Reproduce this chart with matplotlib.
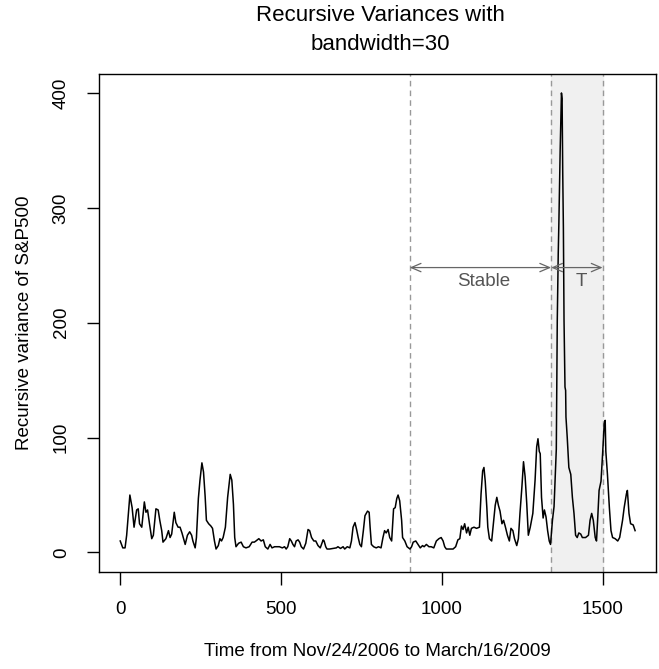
import matplotlib
matplotlib.use('Agg')
import matplotlib.pyplot as plt

plt.rcParams['font.family'] = ['Liberation Sans', 'DejaVu Sans']

# values (time index, recursive variance)
t = [0, 8, 15, 20, 30, 37, 43, 51, 56, 60, 67, 75, 80, 85, 91, 98, 103, 111, 118, 123,
     129, 133, 142, 150, 155, 160, 168, 173, 180, 186, 192, 196, 202, 209, 216, 222, 226, 233, 237, 243,
     248, 254, 259, 264, 268, 275, 282, 287, 293, 298, 305, 310, 315, 320, 327, 334, 342, 347, 352, 356,
     360, 368, 376, 383, 391, 401, 410, 417, 422, 431, 438, 445, 451, 459, 466, 472, 480, 487, 495, 504,
     511, 516, 521, 527, 532, 537, 542, 547, 553, 558, 563, 570, 577, 584, 589, 595, 602, 608, 615, 622,
     631, 634, 639, 643, 651, 662, 672, 677, 685, 693, 698, 706, 714, 719, 724, 730, 735, 740, 745, 750,
     756, 761, 769, 774, 777, 781, 788, 796, 803, 811, 817, 822, 827, 833, 838, 844, 850, 855, 860, 864,
     869, 875, 878, 885, 892, 901, 906, 911, 919, 926, 933, 940, 945, 952, 960, 967, 975, 983, 991, 998,
     1004, 1009, 1014, 1024, 1035, 1043, 1050, 1056, 1061, 1066, 1071, 1077, 1082, 1087, 1092, 1100, 1108, 1117, 1122, 1127,
     1131, 1135, 1140, 1143, 1148, 1155, 1161, 1166, 1171, 1176, 1181, 1187, 1192, 1197, 1204, 1210, 1215, 1221, 1226, 1233,
     1238, 1243, 1249, 1254, 1259, 1264, 1269, 1275, 1283, 1290, 1295, 1299, 1303, 1306, 1310, 1315, 1319, 1324, 1329, 1334,
     1338, 1344, 1349, 1353, 1356, 1359, 1362, 1364, 1368, 1372, 1374, 1376, 1378, 1380, 1383, 1385, 1386, 1390, 1395, 1401,
     1406, 1411, 1416, 1421, 1426, 1432, 1437, 1447, 1456, 1461, 1466, 1471, 1477, 1481, 1485, 1489, 1495, 1500, 1505, 1508,
     1510, 1515, 1521, 1526, 1531, 1539, 1547, 1553, 1562, 1567, 1574, 1577, 1582, 1587, 1595, 1601]
var = [10, 4, 4, 15, 50, 39, 22, 37, 38, 25, 22, 44, 35, 37, 25, 12, 15, 38, 37, 28,
       19, 9, 12, 19, 13, 16, 35, 26, 22, 22, 17, 13, 7, 15, 18, 15, 10, 4, 13, 47,
       63, 78, 70, 49, 28, 25, 23, 21, 10, 3, 6, 12, 10, 13, 22, 48, 68, 63, 42, 13,
       5, 8, 9, 5, 4, 5, 9, 9, 10, 12, 10, 11, 5, 3, 7, 4, 5, 5, 5, 4,
       5, 3, 5, 12, 10, 7, 5, 10, 11, 9, 5, 3, 8, 20, 19, 13, 10, 10, 6, 4,
       11, 10, 5, 3, 3, 3.5, 4, 5, 3.5, 5, 3, 5, 4, 10, 22, 26, 20, 13, 7, 5,
       19, 32, 36, 35, 22, 7, 5, 4, 5, 4, 13, 19, 17, 20, 13, 10, 38, 39, 47, 50,
       45, 28, 13, 10, 5, 3, 5, 9, 10, 7, 4, 6, 5, 7, 5, 5, 4, 10, 12, 13,
       10, 5, 3, 3, 3, 5, 11, 12, 23, 20, 25, 17, 22, 15, 21, 22, 21, 22, 51, 71,
       74, 62, 39, 22, 12, 10, 27, 41, 48, 41, 36, 25, 28, 23, 15, 10, 21, 19, 12, 6,
       12, 34, 57, 79, 66, 43, 15, 22, 34, 63, 92, 99, 88, 86, 48, 30, 37, 31, 19, 10,
       7, 28, 40, 68, 90, 202, 260, 287, 350, 400, 395, 330, 283, 202, 144, 141, 118, 100, 74, 68,
       48, 34, 15, 13, 17, 16, 13, 13, 15, 28, 34, 28, 13, 10, 31, 54, 62, 86, 112, 115,
       88, 68, 39, 19, 13, 12, 10, 13, 28, 39, 51, 54, 34, 25, 24, 19]

stable_start = 900
stable_end = 1340
t_end = 1500

fig = plt.figure(figsize=(6.59, 6.69), dpi=100)
ax = fig.add_axes([99/659, 97/669, 557/659, 498/669])

ax.axvspan(stable_end, t_end, color='#f0f0f0', zorder=0)
for xv in [stable_start, stable_end, t_end]:
    ax.axvline(xv, color='#999999', ls=(0, (4, 3)), lw=1, zorder=1)

ax.plot(t, var, color='black', lw=1.1, zorder=3)

# arrows and labels
arr = dict(arrowstyle='<->,head_length=0.7,head_width=0.3', color='#666666', lw=0.9,
           shrinkA=0, shrinkB=0)
ax.annotate('', xy=(stable_start, 248), xytext=(stable_end, 248), arrowprops=arr)
ax.annotate('', xy=(stable_end, 248), xytext=(t_end, 248), arrowprops=arr)
ax.text(1131, 236, 'Stable', ha='center', va='center', fontsize=13.5, color='#555555')
ax.text(1435, 236, 'T', ha='center', va='center', fontsize=13.5, color='#555555')

ax.set_xlim(-66, 1666)
ax.set_ylim(-17, 416.5)
ax.set_xticks([0, 500, 1000, 1500])
ax.set_yticks([0, 100, 200, 300, 400])
ax.tick_params(labelsize=13.5, length=9, width=1, pad=12)
for lab in ax.get_yticklabels():
    lab.set_rotation(90)
    lab.set_va('center')
for sp in ax.spines.values():
    sp.set_linewidth(1)

ax.set_xlabel('Time from Nov/24/2006 to March/16/2009', fontsize=13.5, labelpad=18)
ax.set_ylabel('Recursive variance of S&P500', fontsize=13.5, labelpad=14)
fig.text(0.577, 0.955, 'Recursive Variances with\nbandwidth=30', ha='center', va='center',
         fontsize=16, linespacing=1.5)

fig.savefig('out.png', dpi=100)
